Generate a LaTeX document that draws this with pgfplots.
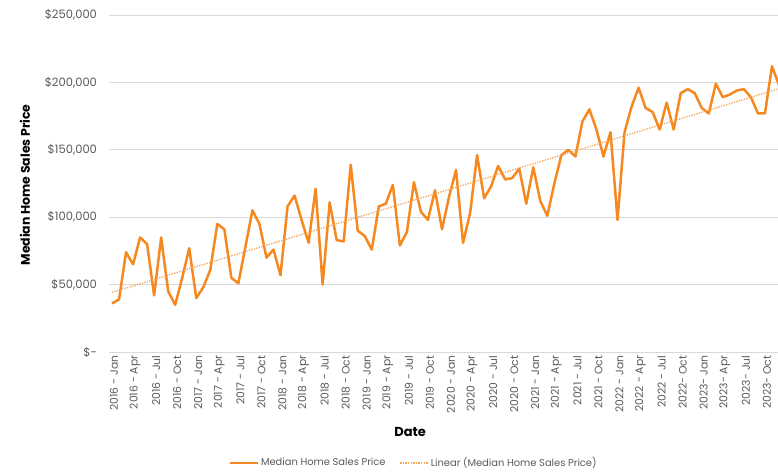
\documentclass[border=0pt]{standalone}
\usepackage{fontspec}
\setmainfont{Poppins}
\usepackage{pgfplots}
\usepackage{pgfplotstable}
\pgfplotsset{compat=1.18}
\definecolor{lineor}{HTML}{F5891F}
\definecolor{trendor}{HTML}{F4A35A}
\definecolor{gridc}{HTML}{D9D9D9}
\definecolor{txt}{HTML}{595959}
\pgfplotstableread{
X Y
0 36000
1 39000
2 74000
3 65000
4 85000
5 80000
6 42000
7 85000
8 45000
9 35000
10 55000
11 77000
12 40000
13 48000
14 61000
15 95000
16 91000
17 55000
18 51000
19 78000
20 105000
21 95000
22 70000
23 76000
24 57000
25 108000
26 116000
27 98000
28 81000
29 121000
30 50000
31 111000
32 83000
33 82000
34 139000
35 90000
36 86000
37 76000
38 108000
39 110000
40 124000
41 79000
42 89000
43 126000
44 104000
45 98000
46 120000
47 91000
48 115000
49 135000
50 81000
51 103000
52 146000
53 114000
54 123000
55 138000
56 128000
57 129000
58 136000
59 110000
60 137000
61 112000
62 101000
63 125000
64 146000
65 150000
66 145000
67 171000
68 180000
69 165000
70 145000
71 163000
72 98000
73 163000
74 182000
75 196000
76 181000
77 178000
78 165000
79 185000
80 165000
81 192000
82 195000
83 192000
84 181000
85 177000
86 199000
87 189000
88 191000
89 194000
90 195000
91 189000
92 177000
93 177000
94 212000
95 198000
}\data
\begin{document}
\begin{tikzpicture}[x=1pt,y=1pt]
\begin{axis}[
  at={(108.5pt,121pt)}, anchor=south west,
  scale only axis, width=670.5pt, height=337pt,
  xmin=-0.5, xmax=95, ymin=0, ymax=250000,
  scaled y ticks=false,
  axis line style={draw=none}, major tick length=0pt,
  ymajorgrids, grid style={gridc, line width=0.8pt},
  ytick={0,50000,100000,150000,200000,250000},
  yticklabels={{\$-},{\$50,000},{\$100,000},{\$150,000},{\$200,000},{\$250,000}},
  yticklabel style={anchor=east, xshift=-8pt, font=\fontsize{11.5}{13}\selectfont, text=txt},
  xtick={0,3,...,93},
  xticklabels={2016 - Jan,2016 - Apr,2016 - Jul,2016 - Oct,2017 - Jan,2017 - Apr,2017 - Jul,2017 - Oct,2018 - Jan,2018 - Apr,2018 - Jul,2018 - Oct,2019 - Jan,2019 - Apr,2019 - Jul,2019 - Oct,2020 - Jan,2020 - Apr,2020 - Jul,2020 - Oct,2021 - Jan,2021 - Apr,2021 - Jul,2021 - Oct,2022 - Jan,2022 - Apr,2022 - Jul,2022- Oct,2023- Jan,2023- Apr,2023- Jul,2023- Oct},
  xticklabel style={rotate=90, anchor=east, yshift=-2pt, font=\fontsize{10.8}{12}\selectfont, text=txt},
  xlabel={Date},
  xlabel style={at={(axis description cs:0.45,-0.237)}, anchor=center, font=\bfseries\fontsize{13}{15}\selectfont},
  ylabel={Median Home Sales Price},
  ylabel style={at={(axis description cs:-0.1245,0.4955)}, anchor=center, font=\bfseries\fontsize{12.5}{14}\selectfont},
  legend columns=2,
  legend style={draw=none, fill=none, at={(0.455,-0.329)}, anchor=center,
    font=\fontsize{9.9}{11}\selectfont, text=txt,
    /tikz/every even column/.append style={column sep=12pt}},
  legend image code/.code={\draw[#1] (0pt,0pt) -- (28pt,0pt);},
]
\addplot[lineor, line width=2.5pt, line join=round] table[x=X, y=Y] {\data};
\addlegendentry{Median Home Sales Price}
\addplot[trendor, line width=1.3pt, dash pattern=on 1.3pt off 1.3pt] table[x=X, y={create col/linear regression={y=Y}}] {\data};
\addlegendentry{Linear (Median Home Sales Price)}
\end{axis}
\pgfresetboundingbox
\useasboundingbox (0,0) rectangle (778,473);
\end{tikzpicture}
\end{document}
